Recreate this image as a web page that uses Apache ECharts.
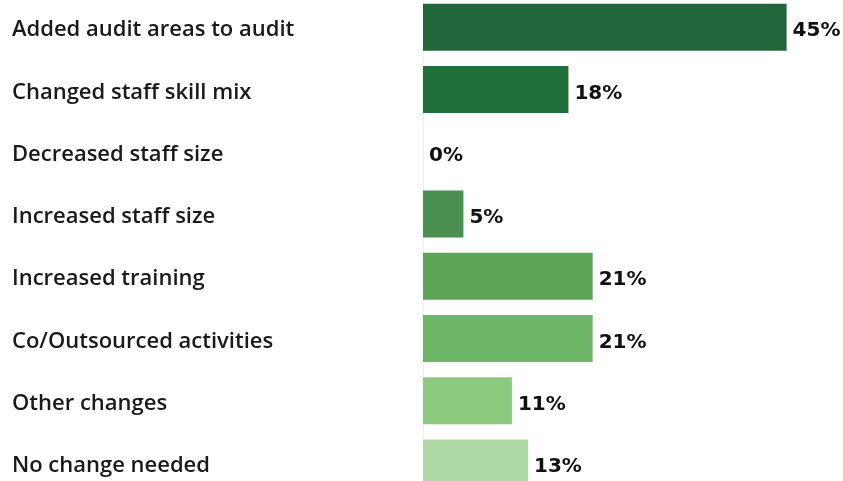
<!DOCTYPE html>
<html>
<head>
<meta charset="utf-8">
<script src="https://cdn.jsdelivr.net/npm/echarts@6/dist/echarts.min.js"></script>
<style>
  html, body { margin: 0; padding: 0; background: #ffffff; overflow: hidden; }
  body { width: 843px; height: 481px; position: relative; }
  /* the plot runs slightly past the top and bottom edges of the page */
  #chart { width: 843px; height: 498px; position: absolute; left: 0; top: -4px; }
</style>
</head>
<body>
<div id="chart"></div>
<script>
// Changes made to the audit function (share of respondents, %)
const categories = [
  'Added audit areas to audit',
  'Changed staff skill mix',
  'Decreased staff size',
  'Increased staff size',
  'Increased training',
  'Co/Outsourced activities',
  'Other changes',
  'No change needed'
];
const shares = [45, 18, 0, 5, 21, 21, 11, 13];
const barColors = ['#21663b', '#1f7139', '#2a7a40', '#4a9151', '#5ea559', '#6eb668', '#8cc97e', '#b0daa5'];

const chart = echarts.init(document.getElementById('chart'));
chart.setOption({
  animation: false,
  grid: { left: 423, right: 16, top: 0, bottom: 0, containLabel: false },
  xAxis: {
    type: 'value', min: 0, max: 50,
    show: false
  },
  yAxis: {
    type: 'category',
    data: categories,
    inverse: true,
    axisTick: { show: false },
    axisLine: { show: true, lineStyle: { color: '#eeeeee', width: 1 } },
    axisLabel: {
      align: 'left',
      margin: 411,
      formatter: v => '{c|' + v + '}',
      rich: {
        c: {
          padding: [6, 0, 0, 0],
          color: '#1a1a1a',
          fontFamily: 'Open Sans',
          fontSize: 22,
          fontWeight: 600
        }
      }
    }
  },
  series: [{
    type: 'bar',
    data: shares.map((v, i) => ({ value: v, itemStyle: { color: barColors[i] } })),
    barWidth: 47,
    label: {
      show: true,
      position: 'right',
      distance: 6,
      offset: [0, 4],
      formatter: p => p.value + '%',
      color: '#111111',
      fontFamily: 'DejaVu Sans',
      fontSize: 20,
      fontWeight: 'bold'
    }
  }]
});
</script>
</body>
</html>
